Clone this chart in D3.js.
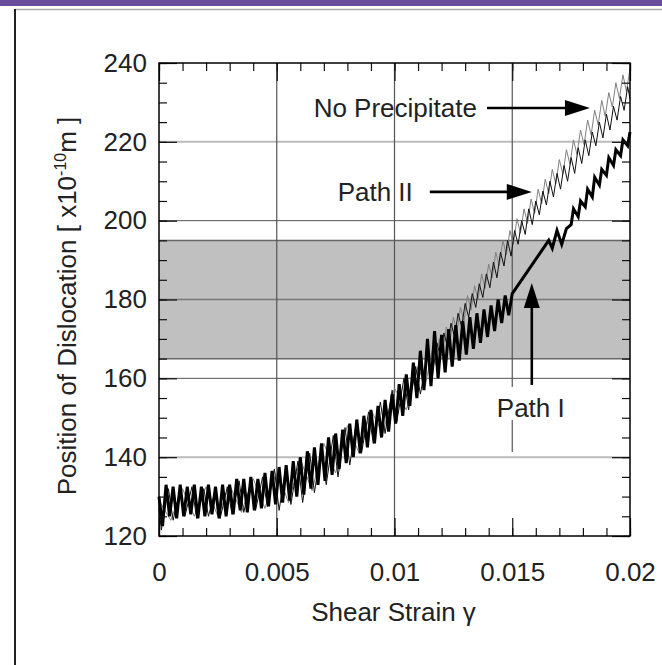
<!DOCTYPE html>
<html>
<head>
<meta charset="utf-8">
<script src="https://cdn.jsdelivr.net/npm/d3@7"></script>
<style>
  body { margin: 0; background: #fff; }
  svg { display: block; font-family: "Liberation Sans", Arial, Helvetica, sans-serif; }
  .tick text { font-size: 26px; fill: #222; }
</style>
</head>
<body>
<svg></svg>
<script>
const WIDTH = 662;
const HEIGHT = 665;

// plot box in page pixels
const LEFT = 159, RIGHT = 630, TOP = 63, BOTTOM = 536;

// [shear strain, position of dislocation (x1e-10 m)]
const pathI = [
  [0, 130], [0.00015, 122.5], [0.0003, 133], [0.00045, 125], [0.0006, 132.5], [0.00075, 124.5],
  [0.0009, 133], [0.00105, 125], [0.0012, 132.5], [0.00135, 125.5], [0.0015, 133], [0.00165, 124.5],
  [0.0018, 132.5], [0.00195, 125], [0.0021, 133], [0.00225, 125.5], [0.0024, 132.5], [0.00255, 124.5],
  [0.0027, 133], [0.00285, 125], [0.003, 133], [0.00315, 125.5], [0.0033, 134.5], [0.00345, 126.5],
  [0.0036, 134.5], [0.00375, 126], [0.0039, 135], [0.00405, 126.5], [0.0042, 134.5], [0.00435, 127],
  [0.0045, 136], [0.00465, 127.5], [0.0048, 136.5], [0.00495, 128], [0.0051, 137.5], [0.00525, 128.5],
  [0.0054, 138], [0.00555, 129], [0.0057, 139], [0.00585, 130], [0.006, 140], [0.00615, 130.5],
  [0.0063, 141.5], [0.00645, 132], [0.0066, 142.5], [0.00675, 133], [0.0069, 143.5], [0.00705, 134],
  [0.0072, 145], [0.00735, 135.5], [0.0075, 146], [0.00765, 137], [0.0078, 147], [0.00795, 138.5],
  [0.0081, 148.5], [0.00825, 140], [0.0084, 149.5], [0.00855, 141], [0.0087, 150.5], [0.00885, 142.5],
  [0.009, 152], [0.00915, 143.5], [0.0093, 153], [0.00945, 145], [0.0096, 154.5], [0.00975, 146.5],
  [0.0099, 156], [0.01005, 148.5], [0.0102, 158.5], [0.01035, 150.5], [0.0105, 161], [0.01065, 153],
  [0.0108, 164], [0.01095, 155], [0.0111, 167], [0.01125, 157], [0.0114, 170], [0.01155, 158],
  [0.0117, 172], [0.01185, 160], [0.012, 171], [0.01215, 161.5], [0.0123, 172.5], [0.01245, 163],
  [0.0126, 173.5], [0.01275, 164.5], [0.0129, 174.5], [0.01305, 166], [0.0132, 175.5], [0.01335, 167.5],
  [0.0135, 176.5], [0.01365, 169], [0.0138, 177.5], [0.01395, 170.5], [0.0141, 178.5], [0.01425, 172],
  [0.0144, 180], [0.01455, 174], [0.0147, 181], [0.01485, 176], [0.015, 181.5],
  [0.01655, 195], [0.0167, 193], [0.0169, 197.5], [0.0171, 194], [0.0173, 198], [0.0175, 199],
  [0.0176, 203], [0.0178, 201], [0.0179, 205], [0.0181, 203.5], [0.0182, 208], [0.0184, 206],
  [0.0185, 211], [0.0187, 209], [0.0188, 213], [0.019, 211.5], [0.0191, 216], [0.0193, 214],
  [0.0194, 218], [0.0196, 216.5], [0.0197, 220.5], [0.0199, 219], [0.02, 222.5]
];

const pathII = [
  [0, 127], [0.0001, 121.5], [0.0004, 132], [0.0006, 124], [0.0009, 132], [0.0011, 125],
  [0.0014, 132.5], [0.0016, 124.5], [0.0019, 132], [0.0021, 125], [0.0024, 132], [0.0026, 124.5],
  [0.0029, 132.5], [0.0031, 125.5], [0.0034, 134], [0.0036, 126], [0.0039, 134], [0.0041, 126.5],
  [0.0044, 135], [0.0046, 127.5], [0.0049, 137], [0.0051, 126.5], [0.0054, 138], [0.0056, 128],
  [0.0059, 139], [0.0061, 128.5], [0.0064, 141], [0.0066, 131], [0.0069, 143], [0.0071, 133],
  [0.0074, 145.5], [0.0076, 135], [0.0079, 147.5], [0.0081, 138], [0.0084, 149.5], [0.0086, 141],
  [0.0089, 151.5], [0.0091, 143.5], [0.0094, 154], [0.0096, 146], [0.0099, 157], [0.0101, 149],
  [0.0104, 160], [0.0106, 152], [0.0109, 163], [0.0111, 156], [0.0114, 166], [0.0116, 160],
  [0.0118, 169], [0.01195, 165.5], [0.0121, 171.5], [0.01225, 168], [0.0124, 174], [0.01255, 170.5],
  [0.0127, 176.5], [0.01285, 173], [0.013, 179], [0.01315, 175.5], [0.0133, 181.5], [0.01345, 178],
  [0.0136, 184], [0.01375, 180.5], [0.0139, 186.5], [0.01405, 183], [0.0142, 189.5], [0.01435, 185.5],
  [0.0145, 192], [0.01465, 188.5], [0.0148, 195], [0.01495, 191], [0.0151, 197.5], [0.01525, 194],
  [0.0154, 200], [0.01555, 196.5], [0.0157, 203], [0.01585, 199], [0.016, 205], [0.01615, 201.5],
  [0.0163, 207.5], [0.01645, 204], [0.0166, 210], [0.01675, 206], [0.0169, 212], [0.01705, 208],
  [0.0172, 214], [0.01735, 210], [0.0175, 216], [0.01765, 212], [0.0178, 218.5], [0.01795, 214.5],
  [0.0181, 220.5], [0.01825, 216.5], [0.0184, 222.5], [0.01855, 219], [0.0187, 225], [0.01885, 221],
  [0.019, 227], [0.01915, 223], [0.0193, 229], [0.01945, 225.5], [0.0196, 231.5], [0.01975, 228],
  [0.0199, 234], [0.02, 231]
];

const noPrecipitate = [
  [0, 129], [0.0005, 124], [0.001, 132], [0.0015, 125], [0.002, 132.5], [0.0025, 125],
  [0.003, 133], [0.0035, 126], [0.004, 134.5], [0.0045, 127], [0.005, 136.5], [0.0055, 128.5],
  [0.006, 139.5], [0.0065, 131.5], [0.007, 143.5], [0.0075, 136], [0.008, 148], [0.0085, 141],
  [0.009, 152], [0.0095, 146], [0.01, 157.5], [0.0105, 152], [0.011, 163], [0.0113, 158],
  [0.0116, 167], [0.01175, 163.5], [0.0119, 170], [0.01205, 166.5], [0.0122, 173], [0.01235, 169.3],
  [0.0125, 175.5], [0.01265, 171.8], [0.0128, 178], [0.01295, 174.5], [0.0131, 181], [0.01325, 177.3],
  [0.0134, 183.5], [0.01355, 180], [0.0137, 186.5], [0.01385, 182.8], [0.014, 189], [0.01415, 185.5],
  [0.0143, 192], [0.01445, 188.5], [0.0146, 195], [0.01475, 191.3], [0.0149, 197.5], [0.01505, 194],
  [0.0152, 200.5], [0.01535, 196.8], [0.0155, 203], [0.01565, 199.3], [0.0158, 205.5], [0.01595, 201.8],
  [0.0161, 208], [0.01625, 204.3], [0.0164, 210.5], [0.01655, 206.8], [0.0167, 213], [0.01685, 209.3],
  [0.017, 215.5], [0.01715, 211.8], [0.0173, 218], [0.01745, 214.3], [0.0176, 220.5], [0.01775, 216.8],
  [0.0179, 223], [0.01805, 219.3], [0.0182, 225.5], [0.01835, 221.8], [0.0185, 228], [0.01865, 224.3],
  [0.0188, 230.5], [0.01895, 226.5], [0.0191, 232.5], [0.01925, 228.8], [0.0194, 235], [0.01955, 231],
  [0.0197, 237], [0.01985, 232.8], [0.02, 238.5]
];

const precipitateBand = [165, 195];
const xTicks = [0, 0.005, 0.01, 0.015, 0.02];
const xTickLabels = ["0", "0.005", "0.01", "0.015", "0.02"];
const yTicks = [120, 140, 160, 180, 200, 220, 240];

const x = d3.scaleLinear().domain([0, 0.02]).range([LEFT, RIGHT]);
const y = d3.scaleLinear().domain([120, 240]).range([BOTTOM, TOP]);

const svg = d3.select("svg").attr("width", WIDTH).attr("height", HEIGHT);

// page frame
svg.append("rect").attr("x", 0).attr("y", 0).attr("width", WIDTH).attr("height", 6).attr("fill", "#6a4c9c");
svg.append("line").attr("x1", 15).attr("x2", WIDTH).attr("y1", 9.5).attr("y2", 9.5)
  .attr("stroke", "#aaa").attr("stroke-width", 1.5);
svg.append("line").attr("x1", 15).attr("x2", 15).attr("y1", 9).attr("y2", HEIGHT)
  .attr("stroke", "#222").attr("stroke-width", 2);

// precipitate band
svg.append("rect")
  .attr("x", x(0)).attr("width", x(0.02) - x(0))
  .attr("y", y(precipitateBand[1])).attr("height", y(precipitateBand[0]) - y(precipitateBand[1]))
  .attr("fill", "#c0c0c0");

// horizontal grid
const hStyle = {
  140: ["#bbb", 2], 160: ["#555", 1], 180: ["#777", 1.5], 200: ["#555", 1], 220: ["#bbb", 2],
  165: ["#666", 1.5], 195: ["#666", 1.5]
};
const hLines = [140, 160, 165, 180, 195, 200, 220];
svg.append("g").selectAll("line").data(hLines).join("line")
  .attr("x1", x(0)).attr("x2", x(0.02))
  .attr("y1", d => y(d)).attr("y2", d => y(d))
  .attr("stroke", d => hStyle[d][0]).attr("stroke-width", d => hStyle[d][1]);

// vertical grid (the 0.015 line stops above the "Path I" label area)
const vLines = [[0.005, 120], [0.01, 120], [0.015, 141.3]];
svg.append("g").selectAll("line").data(vLines).join("line")
  .attr("x1", d => x(d[0])).attr("x2", d => x(d[0]))
  .attr("y1", y(240)).attr("y2", d => y(d[1]))
  .attr("stroke", "#555").attr("stroke-width", 1.2);

// curves
const line = d3.line().x(d => x(d[0])).y(d => y(d[1]));
const curves = svg.append("g");
curves.append("path").attr("d", line(noPrecipitate))
  .attr("fill", "none").attr("stroke", "#808080").attr("stroke-width", 1);
curves.append("path").attr("d", line(pathII))
  .attr("fill", "none").attr("stroke", "#111").attr("stroke-width", 1);
curves.append("path").attr("d", line(pathI))
  .attr("fill", "none").attr("stroke", "#000").attr("stroke-width", 3);

// axes: inward ticks, minor + major
function noLabels(g) { g.selectAll("text").remove(); g.select(".domain").remove(); }
svg.append("g").attr("transform", `translate(0,${BOTTOM})`)
  .call(d3.axisBottom(x).tickValues(x.ticks(20)).tickSizeInner(-8).tickSizeOuter(0)).call(noLabels);
svg.append("g").attr("transform", `translate(0,${TOP})`)
  .call(d3.axisTop(x).tickValues(x.ticks(20)).tickSizeInner(-8).tickSizeOuter(0)).call(noLabels);
svg.append("g").attr("transform", `translate(${LEFT},0)`)
  .call(d3.axisLeft(y).tickValues(y.ticks(24)).tickSizeInner(-8).tickSizeOuter(0)).call(noLabels);
svg.append("g").attr("transform", `translate(${RIGHT},0)`)
  .call(d3.axisRight(y).tickValues(y.ticks(24)).tickSizeInner(-8).tickSizeOuter(0)).call(noLabels);

svg.append("g").attr("transform", `translate(0,${TOP})`)
  .call(d3.axisTop(x).tickValues(xTicks).tickSizeInner(-18).tickSizeOuter(0)).call(noLabels);
svg.append("g").attr("transform", `translate(${RIGHT},0)`)
  .call(d3.axisRight(y).tickValues(yTicks).tickSizeInner(-18).tickSizeOuter(0)).call(noLabels);

const xAxis = svg.append("g").attr("transform", `translate(0,${BOTTOM})`)
  .call(d3.axisBottom(x).tickValues(xTicks).tickFormat((d, i) => xTickLabels[i])
    .tickSizeInner(-18).tickSizeOuter(0).tickPadding(27));
xAxis.select(".domain").remove();

const yAxis = svg.append("g").attr("transform", `translate(${LEFT},0)`)
  .call(d3.axisLeft(y).tickValues(yTicks).tickSizeInner(-18).tickSizeOuter(0).tickPadding(12));
yAxis.select(".domain").remove();

svg.selectAll(".tick line").attr("stroke", "#111").attr("stroke-width", 1.2);

// plot frame
svg.append("rect").attr("x", LEFT).attr("y", TOP)
  .attr("width", RIGHT - LEFT).attr("height", BOTTOM - TOP)
  .attr("fill", "none").attr("stroke", "#000").attr("stroke-width", 1.5);

// axis titles
svg.append("text").attr("x", (LEFT + RIGHT) / 2 - 1).attr("y", 621)
  .attr("text-anchor", "middle").attr("font-size", 26).attr("fill", "#222")
  .text("Shear Strain γ");

const yTitle = svg.append("text").attr("transform", "translate(76,306) rotate(-90)")
  .attr("text-anchor", "middle").attr("font-size", 26).attr("fill", "#222");
yTitle.append("tspan").text("Position of Dislocation [ x10");
yTitle.append("tspan").attr("font-size", 16).attr("dy", -10).text("-10");
yTitle.append("tspan").attr("dy", 10).text("m ]");

// annotations with arrows
const notes = [
  { text: "No Precipitate", tip: [0.0183, 228.6], dir: "right", tx: -113, ty: 9, shaft: 103 },
  { text: "Path II", tip: [0.01583, 207.3], dir: "right", tx: -119, ty: 9, shaft: 102 },
  { text: "Path I", tip: [0.01583, 184.2], dir: "up", tx: -1, ty: 134, shaft: 102 }
];
const ann = svg.append("g");
notes.forEach(n => {
  const px = x(n.tip[0]), py = y(n.tip[1]);
  if (n.dir === "right") {
    ann.append("line").attr("x1", px - n.shaft).attr("x2", px - 20).attr("y1", py).attr("y2", py)
      .attr("stroke", "#000").attr("stroke-width", 2.6);
    ann.append("path").attr("d", `M${px},${py}L${px - 25},${py - 8}L${px - 25},${py + 8}Z`).attr("fill", "#000");
    ann.append("text").attr("x", px + n.tx).attr("y", py + n.ty).attr("text-anchor", "end")
      .attr("font-size", 26).attr("fill", "#222").text(n.text);
  } else {
    ann.append("rect").attr("x", px - 38).attr("y", py + 104).attr("width", 76).attr("height", 33)
      .attr("fill", "#fff");
    ann.append("line").attr("x1", px).attr("x2", px).attr("y1", py + n.shaft).attr("y2", py + 20)
      .attr("stroke", "#000").attr("stroke-width", 2.6);
    ann.append("path").attr("d", `M${px},${py}L${px - 8},${py + 25}L${px + 8},${py + 25}Z`).attr("fill", "#000");
    ann.append("text").attr("x", px + n.tx).attr("y", py + n.ty).attr("text-anchor", "middle")
      .attr("font-size", 26).attr("fill", "#222").text(n.text);
  }
});
</script>
</body>
</html>
